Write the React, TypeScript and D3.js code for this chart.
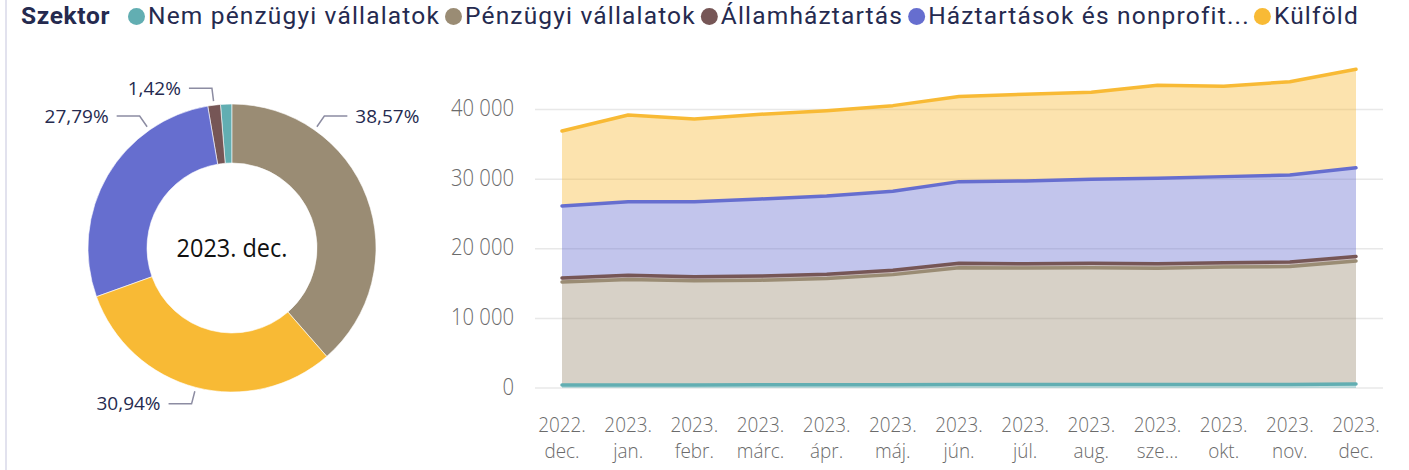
import React, { useMemo } from "react";
import * as d3 from "d3";

// ---------- DATA ----------
const monthYear = ["2022.", "2023.", "2023.", "2023.", "2023.", "2023.", "2023.", "2023.", "2023.", "2023.", "2023.", "2023.", "2023."];
const monthName = ["dec.", "jan.", "febr.", "márc.", "ápr.", "máj.", "jún.", "júl.", "aug.", "sze...", "okt.", "nov.", "dec."];
const seriesNames = ["Nem pénzügyi vállalatok", "Pénzügyi vállalatok", "Államháztartás", "Háztartások és nonprofit...", "Külföld"];
const seriesColors = ["#62AEB2", "#9A8C74", "#765656", "#666ECF", "#F8BA35"];

const nemPenzugyi = [420, 430, 440, 450, 460, 480, 500, 500, 510, 500, 510, 500, 586];
const penzugyi = [14810, 15160, 14960, 15040, 15260, 15810, 16780, 16730, 16770, 16720, 16860, 16960, 17665];
const allamhaztartas = [580, 600, 590, 600, 610, 620, 640, 630, 640, 640, 640, 650, 650];
const haztartasok = [10340, 10580, 10780, 11070, 11260, 11350, 11730, 11890, 12070, 12270, 12360, 12500, 12728];
const kulfold = [10780, 12460, 11880, 12170, 12260, 12310, 12240, 12450, 12500, 13370, 12980, 13400, 14171];

const yTicks = [0, 10000, 20000, 30000, 40000];
const legendTitle = "Szektor";
const donutCenterLabel = "2023. dec.";

// ---------- LAYOUT ----------
const W = 1409;
const H = 470;
const FONT = "'Segoe UI', 'Open Sans', sans-serif";
const LEGEND_FONT_FAMILY = "Roboto, 'Open Sans', sans-serif";
const donut = { cx: 232, cy: 248, outer: 144, inner: 85 };
const labelAngleOverride: Record<string, number> = {
  "Pénzügyi vállalatok": 35,
  "Háztartások és nonprofit...": -35,
};
const hiddenLabels = new Set(["Nem pénzügyi vállalatok"]);

const fmtThousands = d3.formatLocale({ decimal: ",", thousands: " ", grouping: [3], currency: ["", ""] }).format(",.0f");
const fmtPct = (v: number) => d3.format(".2f")(v).replace(".", ",") + "%";

function measure(text: string, font: string, spacing = 0) {
  const c = document.createElement("canvas").getContext("2d")!;
  c.font = font;
  return c.measureText(text).width + spacing * text.length;
}

function SText(props: { x: number; y: number; sx: number; children: React.ReactNode; [k: string]: any }) {
  const { x, y, sx, children, ...rest } = props;
  return (
    <g transform={`translate(${x},${y}) scale(${sx},1)`}>
      <text x={0} y={0} {...rest}>
        {children}
      </text>
    </g>
  );
}

export default function App() {
  const series = [nemPenzugyi, penzugyi, allamhaztartas, haztartasok, kulfold];
  const n = monthName.length;

  const rows = d3.range(n).map((i) => {
    const r: Record<string, number> = { i };
    seriesNames.forEach((s, k) => (r[s] = series[k][i]));
    return r;
  });
  const stacked = d3.stack<Record<string, number>>().keys(seriesNames)(rows);

  const x = d3.scaleLinear().domain([0, n - 1]).range([562, 1356]);
  const y = d3.scaleLinear().domain([0, 50000]).range([388, 40]);
  const gridX0 = 535;
  const gridX1 = 1383;

  const area = d3
    .area<d3.SeriesPoint<Record<string, number>>>()
    .x((d) => x(d.data.i))
    .y0((d) => y(d[0]))
    .y1((d) => y(d[1]));
  const line = d3
    .line<d3.SeriesPoint<Record<string, number>>>()
    .x((d) => x(d.data.i))
    .y((d) => y(d[1]));

  // donut
  const last = seriesNames.map((s, k) => ({ name: s, value: series[k][n - 1], color: seriesColors[k] }));
  const total = d3.sum(last, (d) => d.value);
  const pie = d3.pie<{ name: string; value: number; color: string }>().value((d) => d.value);
  const arcs = pie(last);
  const arcGen = d3.arc<d3.PieArcDatum<any>>().innerRadius(donut.inner).outerRadius(donut.outer);

  // legend layout (calibrated so the first item spans ~292px as in the reference)
  const legendFontSize = 24.5;
  const legendFont = `${legendFontSize}px ${LEGEND_FONT_FAMILY}`;
  const legend = useMemo(() => {
    const baseW = measure(seriesNames[0], legendFont);
    const spacing = Math.max(0, (292 - baseW) / seriesNames[0].length);
    let xPos = 21;
    const titleW = measure(legendTitle, `bold ${legendFont}`);
    const titleSpacing = Math.max(0, (89 - titleW) / legendTitle.length);
    xPos += titleW + titleSpacing * legendTitle.length + 18;
    const items = seriesNames.map((s, k) => {
      const cx = xPos + 8.5;
      const tx = xPos + 20;
      const w = measure(s, legendFont, spacing);
      xPos = tx + w + 5;
      return { s, cx, tx, color: seriesColors[k] };
    });
    return { items, spacing, titleSpacing };
  }, []);

  const axisColor = "#6b6b6b";

  return (
    <svg width={W} height={H} style={{ position: "absolute", left: 0, top: 0, background: "#fff" }} fontFamily={FONT}>
      <rect x={5} y={0} width={2} height={H} fill="#e2e2ee" />
      {/* Legend */}
      <text
        x={21}
        y={23.5}
        fontSize={legendFontSize}
        fontFamily={LEGEND_FONT_FAMILY}
        fontWeight="bold"
        letterSpacing={legend.titleSpacing}
        fill="#252a4f"
      >
        {legendTitle}
      </text>
      {legend.items.map((l) => (
        <g key={l.s}>
          <circle cx={l.cx} cy={16.5} r={8.5} fill={l.color} />
          <text
            x={l.tx}
            y={23.5}
            fontSize={legendFontSize}
            fontFamily={LEGEND_FONT_FAMILY}
            letterSpacing={legend.spacing}
            fill="#252a4f"
          >
            {l.s}
          </text>
        </g>
      ))}

      {/* Donut */}
      <g transform={`translate(${donut.cx},${donut.cy})`}>
        {arcs.map((a) => (
          <path key={a.data.name} d={arcGen(a)!} fill={a.data.color} stroke="#fff" strokeWidth={0.6} />
        ))}
        {arcs.map((a) => {
          if (hiddenLabels.has(a.data.name)) return null;
          const mid = (a.startAngle + a.endAngle) / 2;
          const ang = labelAngleOverride[a.data.name] !== undefined ? (labelAngleOverride[a.data.name] * Math.PI) / 180 : mid;
          const sx = Math.sin(ang);
          const sy = -Math.cos(ang);
          const p0 = [sx * (donut.outer + 4), sy * (donut.outer + 4)];
          const p1 = [sx * (donut.outer + 17), sy * (donut.outer + 17)];
          const side = sx >= 0 ? 1 : -1;
          const p2 = [p1[0] + side * 23, p1[1]];
          const tx = p2[0] + side * 8;
          return (
            <g key={"l" + a.data.name}>
              <polyline
                points={[p0, p1, p2].map((p) => p.join(",")).join(" ")}
                fill="none"
                stroke="#8c8ca2"
                strokeWidth={1.5}
              />
              <text x={tx} y={p2[1]} dy="0.35em" fontSize={19} fill="#252a4f" textAnchor={side > 0 ? "start" : "end"}>
                {fmtPct((a.data.value / total) * 100)}
              </text>
            </g>
          );
        })}
        <SText x={0} y={0} sx={0.92} dy="0.36em" textAnchor="middle" fontSize={25.5} fill="#111">
          {donutCenterLabel}
        </SText>
      </g>

      {/* Area chart */}
      {yTicks.map((t) => (
        <g key={t}>
          <line x1={gridX0} x2={gridX1} y1={y(t)} y2={y(t)} stroke="#e8e8e8" strokeWidth={1.5} />
          <SText x={514} y={y(t)} sx={0.88} dy="0.29em" textAnchor="end" fontSize={23} fontWeight={300} fill={axisColor}>
            {fmtThousands(t)}
          </SText>
        </g>
      ))}
      {stacked.map((s, k) => (
        <path key={"a" + k} d={area(s)!} fill={seriesColors[k]} fillOpacity={0.4} />
      ))}
      {stacked.map((s, k) => (
        <path
          key={"l" + k}
          d={line(s)!}
          fill="none"
          stroke={seriesColors[k]}
          strokeWidth={3.5}
          strokeLinejoin="round"
          strokeLinecap="round"
        />
      ))}
      {monthName.map((m, i) => (
        <g key={"x" + i}>
          <SText x={x(i)} y={431.7} sx={0.9} textAnchor="middle" fontSize={21} fontWeight={300} fill={axisColor}>
            {monthYear[i]}
          </SText>
          <SText x={x(i)} y={458} sx={0.9} textAnchor="middle" fontSize={21} fontWeight={300} fill={axisColor}>
            {m}
          </SText>
        </g>
      ))}
    </svg>
  );
}
